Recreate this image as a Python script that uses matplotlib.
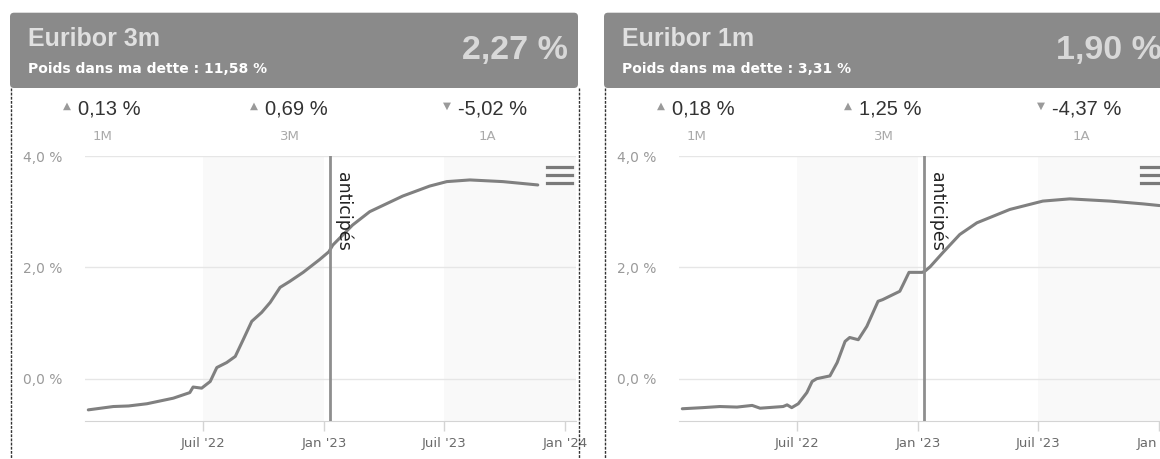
import numpy as np
import pandas as pd
import matplotlib
matplotlib.use("Agg")
import matplotlib.pyplot as plt
import matplotlib.dates as mdates
from matplotlib.patches import FancyBboxPatch
from matplotlib.lines import Line2D
from matplotlib.transforms import IdentityTransform, blended_transform_factory

W, H = 1160, 459

# Euribor 3 mois : historique puis taux anticipés
dates_3m = pd.to_datetime([
    "2022-01-08", "2022-02-15", "2022-03-10", "2022-04-07", "2022-05-17",
    "2022-06-11", "2022-06-16", "2022-06-29", "2022-07-12", "2022-07-22",
    "2022-08-06", "2022-08-19", "2022-08-31", "2022-09-13", "2022-09-28",
    "2022-10-11", "2022-10-26", "2022-11-10", "2022-11-30", "2022-12-25",
    "2023-01-08", "2023-01-14", "2023-02-13", "2023-03-11", "2023-04-30",
    "2023-06-10", "2023-07-06", "2023-08-10", "2023-09-29", "2023-11-21",
])
rate_3m = [
    -0.56, -0.50, -0.49, -0.45, -0.35,
    -0.25, -0.15, -0.17, -0.05, 0.20,
    0.29, 0.40, 0.70, 1.03, 1.19,
    1.37, 1.64, 1.75, 1.91, 2.14,
    2.28, 2.40, 2.76, 3.00, 3.28,
    3.46, 3.54, 3.57, 3.54, 3.48,
]

# Euribor 1 mois
dates_1m = pd.to_datetime([
    "2022-01-08", "2022-02-08", "2022-03-06", "2022-04-01", "2022-04-24",
    "2022-05-06", "2022-06-10", "2022-06-16", "2022-06-23", "2022-07-03",
    "2022-07-16", "2022-07-24", "2022-07-31", "2022-08-20", "2022-08-31",
    "2022-09-12", "2022-09-19", "2022-10-02", "2022-10-15", "2022-11-01",
    "2022-11-08", "2022-12-04", "2022-12-09", "2022-12-18", "2023-01-07",
    "2023-01-11", "2023-01-19", "2023-02-07", "2023-03-05", "2023-03-31",
    "2023-05-20", "2023-07-09", "2023-08-19", "2023-10-19", "2023-12-08",
    "2024-01-02",
])
rate_1m = [
    -0.54, -0.52, -0.50, -0.51, -0.48,
    -0.53, -0.50, -0.47, -0.52, -0.45,
    -0.25, -0.05, 0.00, 0.05, 0.29,
    0.67, 0.74, 0.70, 0.94, 1.39,
    1.42, 1.57, 1.69, 1.91, 1.91,
    1.93, 2.01, 2.26, 2.59, 2.80,
    3.04, 3.19, 3.23, 3.19, 3.14,
    3.11,
]

periods = ["1M", "3M", "1A"]
var_3m = [0.13, 0.69, -5.02]
var_1m = [0.18, 1.25, -4.37]

date_anticipe = pd.Timestamp("2023-01-10")
xtick_dates = pd.to_datetime(["2022-07-01", "2023-01-01", "2023-07-01", "2024-01-01"])
xtick_labels = ["Juil '22", "Jan '23", "Juil '23", "Jan '24"]
bands = [("2022-07-01", "2023-01-01"), ("2023-07-01", "2024-02-01")]


def fr(v):
    return f"{v:.2f}".replace(".", ",")


def px(x, y):
    # pixel (depuis le haut) -> fraction de figure
    return x / W, 1 - y / H


fig = plt.figure(figsize=(W / 100, H / 100), dpi=100)
fig.patch.set_facecolor("white")
renderer = fig.canvas.get_renderer()


def draw_panel(x0, name, current, weight, changes, dates, values):
    # bandeau titre
    head = FancyBboxPatch((x0 + 10, H - 88), 568, 75.3,
                          boxstyle="round,pad=0,rounding_size=4",
                          transform=IdentityTransform(),
                          facecolor="#8a8a8a", edgecolor="none", zorder=1)
    fig.add_artist(head)
    fig.text(*px(x0 + 28, 39), name, fontsize=18, fontweight="bold",
             family="Liberation Sans", color="#e0e0e0", va="center", ha="left")
    fig.text(*px(x0 + 28, 69), f"Poids dans ma dette : {fr(weight)} %",
             fontsize=10, fontweight="bold", family="DejaVu Sans",
             color="white", va="center", ha="left")
    fig.text(*px(x0 + 568, 51), f"{fr(current)} %", fontsize=24.5,
             fontweight="bold", family="Liberation Sans", color="#d8d8d8",
             va="center", ha="right")

    # bords du cadre
    for bx in (x0 + 10.5, x0 + 578.5):
        fig.add_artist(Line2D([bx / W, bx / W], [1 - 88 / H, 0],
                              transform=fig.transFigure, color="#333333",
                              lw=1, ls=(0, (2, 1))))

    # variations 1M / 3M / 1A
    for cx, per, v in zip([103, 290, 487], periods, changes):
        t = fig.text(*px(x0 + cx + 6, 109), f"{fr(v)} %", fontsize=14.5,
                     family="Liberation Sans", color="#333333",
                     va="center", ha="center")
        bb = t.get_window_extent(renderer)
        arrow = "\u25b2" if v > 0 else "\u25bc"
        fig.text((bb.x0 - 7) / W, 1 - 106 / H, arrow, fontsize=7.5,
                 color="#9a9a9a", va="center", ha="right")
        fig.text(*px(x0 + cx, 136), per, fontsize=9.5, color="#aaaaaa",
                 va="center", ha="center")

    # graphique
    left, right, top, bottom = x0 + 85, x0 + 576, 156, 421
    ax = fig.add_axes([left / W, 1 - bottom / H, (right - left) / W, (bottom - top) / H])
    ax.set_xlim(pd.Timestamp("2022-01-03"), pd.Timestamp("2024-01-18"))
    ax.set_ylim(-0.76, 4.0)
    for a, b in bands:
        ax.axvspan(pd.Timestamp(a), pd.Timestamp(b), color="#f9f9f9", lw=0, zorder=0)
    ax.set_yticks([0, 2, 4])
    ax.set_yticklabels([f"{v:.1f}".replace(".", ",") + " %" for v in [0, 2, 4]])
    ax.grid(axis="y", color="#e6e6e6", lw=1)
    ax.set_axisbelow(True)
    ax.set_xticks(xtick_dates)
    ax.set_xticklabels(xtick_labels)
    ax.tick_params(axis="y", length=0, pad=16, labelsize=10, labelcolor="#9a9a9a")
    ax.tick_params(axis="x", length=7.5, width=1, color="#d4d4d4", pad=4,
                   labelsize=9.5, labelcolor="#6a6a6a")
    for s in ("top", "left", "right"):
        ax.spines[s].set_visible(False)
    ax.spines["bottom"].set_color("#d4d4d4")
    ax.set_facecolor("none")

    ax.plot(dates, values, color="#808080", lw=2.2, solid_capstyle="round",
            clip_on=False, zorder=3)
    ax.axvline(date_anticipe, color="#8e8e8e", lw=2, zorder=4)
    tr = blended_transform_factory(ax.transData, ax.transAxes)
    ax.annotate("anticipés",
                xy=(mdates.date2num(date_anticipe), (bottom - 172) / (bottom - top)),
                xycoords=tr, xytext=(3, 0), textcoords="offset points",
                rotation=-90, ha="left", va="top", fontsize=12.5,
                color="#222222", zorder=5)

    # icône menu
    for yy in (167, 175, 183):
        fig.add_artist(Line2D([(x0 + 547) / W, (x0 + 572) / W], [1 - yy / H] * 2,
                              transform=fig.transFigure, color="#7a7a7a", lw=2.3))
    return ax


draw_panel(0, "Euribor 3m", 2.27, 11.58, var_3m, dates_3m, rate_3m)
draw_panel(594, "Euribor 1m", 1.90, 3.31, var_1m, dates_1m, rate_1m)

fig.savefig("out.png", dpi=100)
